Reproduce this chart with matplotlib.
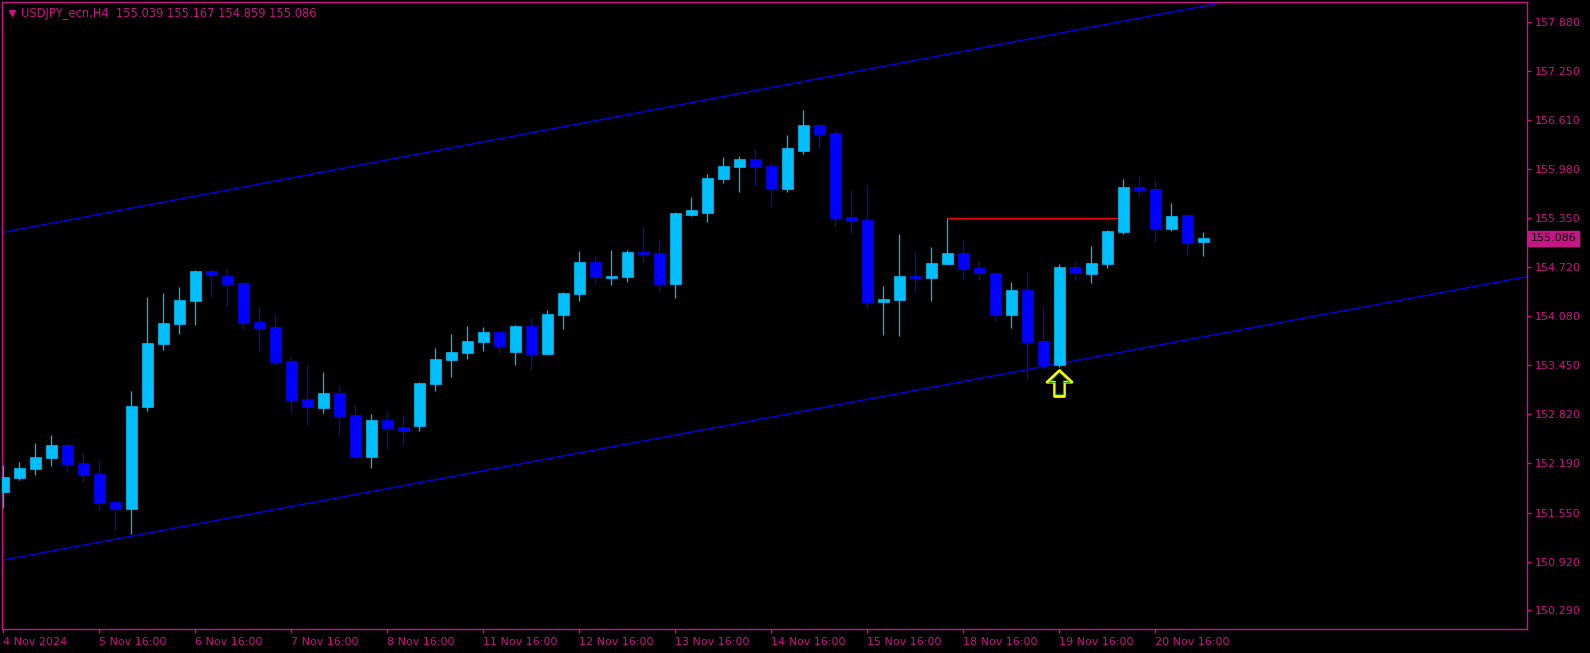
import matplotlib
matplotlib.use("Agg")
import matplotlib.pyplot as plt
import matplotlib.transforms as mtransforms
from matplotlib.path import Path

symbol = "USDJPY_ecn,H4"

# H4 bars, 4 Nov 16:00 .. 21 Nov 04:00
opens = [151.820, 152.001, 152.113, 152.259, 152.422, 152.190, 152.049, 151.687, 151.597, 152.912,
         153.725, 153.983, 154.279, 154.666, 154.601, 154.511, 154.008, 153.944, 153.505, 153.016,
         152.900, 153.093, 152.809, 152.268, 152.745, 152.655, 152.667, 153.209, 153.518, 153.609,
         153.750, 153.879, 153.621, 153.957, 153.596, 154.099, 154.369, 154.782, 154.576, 154.588,
         154.911, 154.898, 154.498, 155.388, 155.414, 155.852, 156.007, 156.110, 156.020, 155.723,
         156.213, 156.548, 156.445, 155.362, 155.323, 154.266, 154.292, 154.601, 154.576, 154.756,
         154.898, 154.705, 154.640, 154.099, 154.421, 153.763, 153.454, 154.717, 154.627, 154.756,
         155.169, 155.749, 155.723, 155.207, 155.388, 155.039]
highs = [152.165, 152.203, 152.448, 152.551, 152.448, 152.336, 152.242, 151.700, 153.119, 154.331,
         154.382, 154.460, 154.679, 154.692, 154.705, 154.524, 154.202, 154.111, 153.557, 153.467,
         153.364, 153.196, 152.951, 152.822, 152.861, 152.809, 153.235, 153.673, 153.854, 153.957,
         153.944, 153.885, 153.970, 154.060, 154.163, 154.395, 154.924, 154.859, 154.937, 154.937,
         155.233, 155.066, 155.427, 155.620, 155.916, 156.136, 156.148, 156.239, 156.071, 156.419,
         156.742, 156.555, 156.497, 155.710, 155.775, 154.472, 155.143, 154.924, 154.975, 155.349,
         155.066, 154.795, 154.653, 154.524, 154.653, 154.202, 154.756, 154.795, 154.988, 155.190,
         155.852, 155.891, 155.839, 155.542, 155.395, 155.167]
lows = [151.614, 151.975, 152.036, 152.152, 152.074, 151.949, 151.588, 151.330, 151.279, 152.861,
        153.647, 153.854, 153.970, 154.331, 154.202, 153.918, 153.634, 153.441, 152.835, 152.680,
        152.835, 152.539, 152.242, 152.126, 152.371, 152.422, 152.603, 153.119, 153.299, 153.531,
        153.634, 153.609, 153.454, 153.389, 153.590, 153.918, 154.279, 154.498, 154.485, 154.524,
        154.782, 154.395, 154.318, 155.380, 155.298, 155.800, 155.684, 155.762, 155.504, 155.684,
        156.174, 156.252, 155.246, 155.156, 154.176, 153.841, 153.828, 154.395, 154.279, 154.750,
        154.563, 154.550, 154.021, 153.931, 153.260, 153.402, 153.428, 154.550, 154.511, 154.705,
        155.143, 155.620, 155.040, 155.182, 154.859, 154.859]
closes = [152.010, 152.126, 152.268, 152.422, 152.181, 152.036, 151.675, 151.597, 152.925, 153.737,
          153.995, 154.292, 154.666, 154.614, 154.498, 153.995, 153.931, 153.493, 153.003, 152.912,
          153.093, 152.796, 152.268, 152.745, 152.642, 152.603, 153.222, 153.531, 153.621, 153.763,
          153.879, 153.699, 153.957, 153.596, 154.111, 154.382, 154.782, 154.588, 154.601, 154.911,
          154.885, 154.498, 155.414, 155.452, 155.865, 156.020, 156.110, 156.007, 155.723, 156.252,
          156.548, 156.432, 155.349, 155.310, 154.266, 154.305, 154.601, 154.576, 154.769, 154.898,
          154.692, 154.640, 154.099, 154.421, 153.750, 153.454, 154.717, 154.640, 154.769, 155.182,
          155.749, 155.710, 155.207, 155.375, 155.027, 155.086]

tick_bars = [0, 6, 12, 18, 24, 30, 36, 42, 48, 54, 60, 66, 72]
tick_labels = ["4 Nov 2024", "5 Nov 16:00", "6 Nov 16:00", "7 Nov 16:00", "8 Nov 16:00",
               "11 Nov 16:00", "12 Nov 16:00", "13 Nov 16:00", "14 Nov 16:00", "15 Nov 16:00",
               "18 Nov 16:00", "19 Nov 16:00", "20 Nov 16:00"]
price_ticks = [157.880, 157.250, 156.610, 155.980, 155.350, 154.720, 154.080,
               153.450, 152.820, 152.190, 151.550, 150.920, 150.290]

# trend channel, two anchor points (bar, price) each
lower_channel = [(0, 150.940), (95, 154.585)]
upper_channel = [(0, 155.165), (95, 158.860)]
level_bars = (59, 70)   # horizontal level from the high of bar 59
arrow_bar = 66

FG = "#C71585"
UP = "#00BFFF"
DOWN = "#0000FF"

W, H = 1590, 653


def main():
    fig = plt.figure(figsize=(W / 100, H / 100), dpi=100, facecolor="black")
    ax = fig.add_axes([2 / W, 24 / H, 1524.7 / W, 627 / H], facecolor="black")

    n = len(opens)
    xs = list(range(n))
    cols = [UP if c >= o else DOWN for o, c in zip(opens, closes)]

    ax.vlines(xs, lows, highs, colors=cols, lw=0.9, zorder=3)
    bodies = [c - o for o, c in zip(opens, closes)]
    ax.bar(xs, bodies, bottom=opens, width=0.69, color=cols, edgecolor=cols,
           linewidth=0.5, zorder=4)

    ax.axline(*lower_channel, color=DOWN, lw=0.9, zorder=2)
    ax.axline(*upper_channel, color=DOWN, lw=0.9, zorder=2)
    ax.hlines(highs[level_bars[0]], level_bars[0], level_bars[1], colors="#FF0000",
              lw=1.0, zorder=2)

    # up arrow under the low of the signal bar
    arrow = Path([(0, 0.5), (0.48, 0.05), (0.19, 0.05), (0.19, -0.5), (-0.19, -0.5),
                  (-0.19, 0.05), (-0.48, 0.05), (0, 0.5)], closed=True)
    tr = mtransforms.offset_copy(ax.transData, fig=fig, y=-16, units="dots")
    ax.plot([arrow_bar], [lows[arrow_bar]], marker=arrow, ms=18.7, mfc="black",
            mec="#FFFF00", mew=2.0, ls="none", transform=tr, zorder=5)
    ax.plot([arrow_bar], [lows[arrow_bar]], marker=arrow, ms=15.6, mfc="none",
            mec="#00A000", mew=0.6, ls="none", transform=tr, zorder=6)

    ax.set_xlim(-0.08, 95.2)
    ax.set_ylim(150.050, 158.134)

    ax.set_xticks(tick_bars)
    ax.set_xticklabels(tick_labels)
    for lbl in ax.get_xticklabels():
        lbl.set_horizontalalignment("left")
    ax.yaxis.tick_right()
    ax.set_yticks(price_ticks)
    ax.set_yticklabels(["%.3f" % p for p in price_ticks])
    ax.tick_params(colors=FG, labelsize=8, length=3, width=1, direction="out", pad=3)
    for sp in ax.spines.values():
        sp.set_color(FG)
        sp.set_linewidth(1)

    # current price tag
    ax.annotate("%.3f" % closes[-1], xy=(1, closes[-1]), xycoords=("axes fraction", "data"),
                xytext=(4, 0), textcoords="offset pixels", va="center", ha="left",
                fontsize=8, color="black", annotation_clip=False,
                bbox=dict(boxstyle="square,pad=0.25", fc=FG, ec=FG))

    # header
    ax.plot([0], [1], marker="v", ms=5, color=FG, ls="none", clip_on=False,
            transform=mtransforms.offset_copy(ax.transAxes, fig=fig, x=9.5, y=-11, units="dots"))
    ohlc = " ".join("%.3f" % v for v in (opens[-1], highs[-1], lows[-1], closes[-1]))
    ax.annotate(symbol + "  " + ohlc, xy=(0, 1), xycoords="axes fraction",
                xytext=(19, -11), textcoords="offset pixels", va="center", ha="left",
                fontsize=8.3, color=FG)

    fig.savefig("out.png", dpi=100, facecolor="black")


if __name__ == "__main__":
    main()
